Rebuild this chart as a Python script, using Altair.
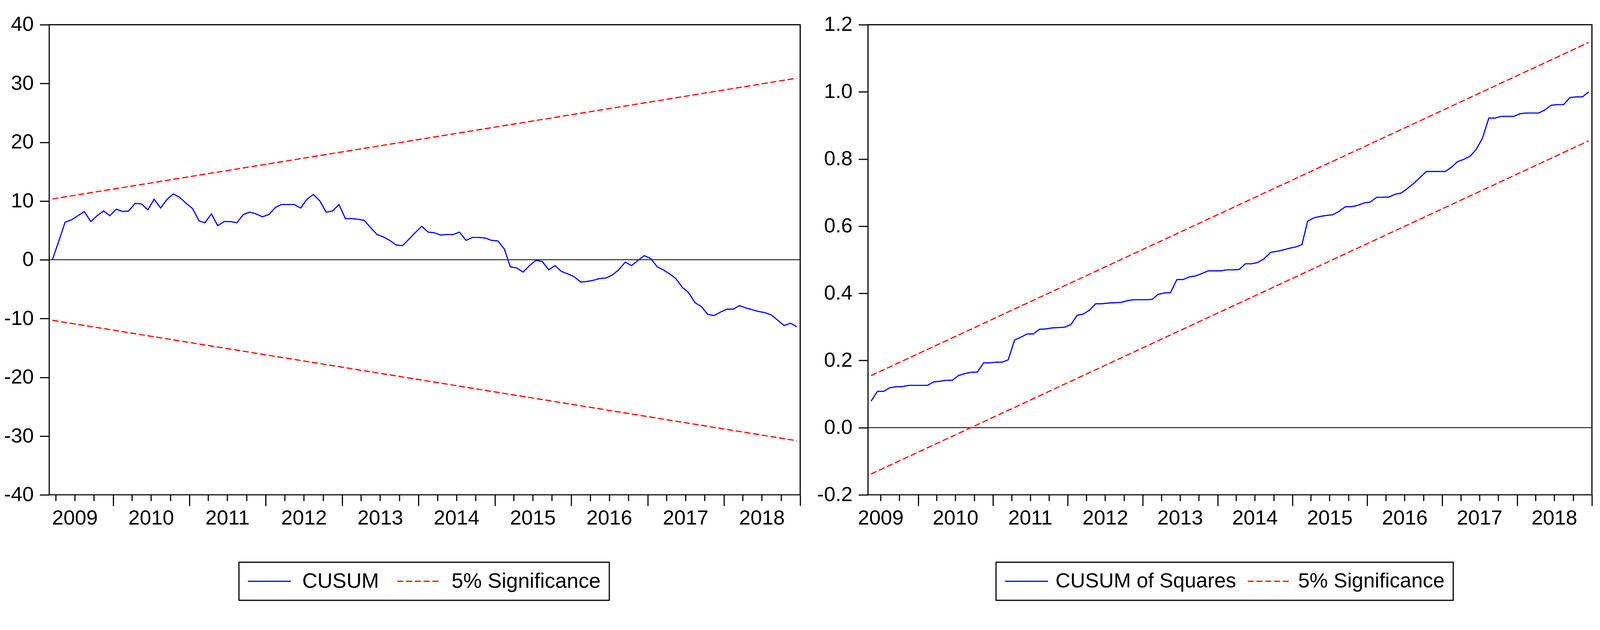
import altair as alt
import pandas as pd

# ---------------- data ----------------
# Left panel: CUSUM, monthly observations 2009M03 .. 2018M12
CUSUM_START = (2009, 3)
cusum = [
    0.0, 3.2, 6.4, 6.8, 7.5, 8.2, 6.5, 7.5, 8.3, 7.5,
    8.6, 8.2, 8.3, 9.6, 9.5, 8.5, 10.3, 8.8, 10.3, 11.2,
    10.6, 9.6, 8.7, 6.6, 6.3, 7.8, 5.8, 6.5, 6.5, 6.3,
    7.7, 8.1, 7.8, 7.3, 7.7, 8.9, 9.4, 9.4, 9.4, 8.8,
    10.3, 11.1, 10.0, 8.1, 8.3, 9.4, 7.0, 7.0, 6.9, 6.7,
    5.5, 4.3, 3.9, 3.3, 2.5, 2.4, 3.5, 4.6, 5.7, 4.7,
    4.6, 4.2, 4.3, 4.3, 4.7, 3.3, 3.8, 3.8, 3.7, 3.3,
    3.2, 1.8, -1.2, -1.4, -2.1, -1.0, -0.1, -0.3, -1.7, -1.0,
    -2.0, -2.4, -2.9, -3.8, -3.7, -3.5, -3.2, -3.1, -2.6, -1.7,
    -0.4, -1.0, -0.1, 0.7, 0.2, -1.2, -1.7, -2.4, -3.2, -4.7,
    -5.6, -7.3, -8.0, -9.3, -9.5, -8.9, -8.4, -8.4, -7.8, -8.2,
    -8.5, -8.8, -9.0, -9.4, -10.3, -11.2, -10.8, -11.4,
]
cusum_upper = [10.35, 30.9]     # at first and last observation
cusum_lower = [-10.3, -30.8]

# Right panel: CUSUM of Squares, monthly 2009M05 .. 2018M12
SQ_START = (2009, 5)
cusum_sq = [
    0.079, 0.108, 0.108, 0.119, 0.122, 0.122, 0.126, 0.126, 0.126, 0.126,
    0.136, 0.138, 0.141, 0.141, 0.155, 0.161, 0.165, 0.165, 0.193, 0.193,
    0.195, 0.195, 0.202, 0.261, 0.269, 0.279, 0.279, 0.293, 0.294, 0.297,
    0.298, 0.299, 0.307, 0.335, 0.338, 0.350, 0.369, 0.369, 0.371, 0.372,
    0.373, 0.378, 0.381, 0.381, 0.381, 0.382, 0.397, 0.401, 0.402, 0.441,
    0.441, 0.449, 0.452, 0.459, 0.467, 0.467, 0.467, 0.470, 0.470, 0.471,
    0.488, 0.488, 0.492, 0.503, 0.522, 0.525, 0.529, 0.534, 0.538, 0.545,
    0.615, 0.625, 0.629, 0.632, 0.634, 0.644, 0.658, 0.658, 0.662, 0.669,
    0.672, 0.686, 0.686, 0.687, 0.695, 0.699, 0.713, 0.728, 0.746, 0.763,
    0.763, 0.763, 0.763, 0.776, 0.792, 0.799, 0.808, 0.829, 0.862, 0.922,
    0.922, 0.927, 0.927, 0.927, 0.935, 0.937, 0.937, 0.937, 0.946, 0.960,
    0.962, 0.962, 0.983, 0.985, 0.985, 1.000,
]
sq_upper = [0.155, 1.147]
sq_lower = [-0.138, 0.854]

left_y_ticks = [-40, -30, -20, -10, 0, 10, 20, 30, 40]
right_y_ticks = [-0.2, 0.0, 0.2, 0.4, 0.6, 0.8, 1.0, 1.2]
left_series = ["CUSUM", "5% Significance"]
right_series = ["CUSUM of Squares", "5% Significance"]
zero_line = [0]

LEFT_DOMAIN = [(2009, 3), (2019, 1)]
RIGHT_DOMAIN = [(2009, 5), (2019, 1)]
LEFT_FIRST_QTICK = (2009, 4)
RIGHT_FIRST_QTICK = (2009, 7)


# ---------------- helpers ----------------
def add_months(ym, k):
    y, m = ym
    t = (m - 1) + k
    return y + t // 12, t % 12 + 1


def month_dates(start, n):
    out = []
    for i in range(n):
        y, m = add_months(start, i)
        out.append(f"{y}-{m:02d}-16T00:00:00")
    return out


def dt(ym):
    return alt.DateTime(year=ym[0], month=ym[1], date=1)


def quarter_ticks(first, last):
    ticks = []
    cur = first
    while cur <= last:
        ticks.append(dt(cur))
        cur = add_months(cur, 3)
    return ticks


def build_df(start, values, upper, lower, names):
    dates = month_dates(start, len(values))
    rows = [{"date": d, "value": v, "series": names[0], "line": "main"}
            for d, v in zip(dates, values)]
    ends = [dates[0], dates[-1]]
    rows += [{"date": d, "value": v, "series": names[1], "line": "upper"}
             for d, v in zip(ends, upper)]
    rows += [{"date": d, "value": v, "series": names[1], "line": "lower"}
             for d, v in zip(ends, lower)]
    return pd.DataFrame(rows)


FS_AXIS = 54
PLOT_H = 1234


def panel(df, names, domain, first_qtick, ydomain, yticks, yfmt, width,
          legend_x, legend_y, label_offset, column_padding, legend_fs):
    xaxis = alt.Axis(
        values=quarter_ticks(first_qtick, domain[1]),
        tickSize={"condition": {"test": "month(datum.value) == 0", "value": 29}, "value": 16},
        tickWidth=3,
        tickColor="black",
        labelExpr="month(datum.value) == 6 ? timeFormat(datum.value, '%Y') : ''",
        labelFontSize=FS_AXIS,
        labelColor="black",
        labelPadding=19,
        labelOverlap=False,
        labelFlush=False,
        labelBound=False,
        labelLimit=1000,
        domain=False,
        grid=False,
        title=None,
    )
    yaxis = alt.Axis(
        values=yticks,
        format=yfmt,
        labelExpr="replace(datum.label, '\u2212', '-')",
        tickSize=25,
        tickWidth=3,
        tickColor="black",
        labelFontSize=FS_AXIS,
        labelColor="black",
        labelPadding=16,
        domain=False,
        grid=False,
        title=None,
    )
    legend = alt.Legend(
        title=None,
        orient="none",
        legendX=legend_x,
        legendY=legend_y,
        direction="horizontal",
        labelOffset=label_offset,
        columnPadding=column_padding,
        labelFontSize=legend_fs,
    )
    color_scale = alt.Scale(domain=names, range=["#0000FF", "#FF0000"])
    dash_scale = alt.Scale(domain=names, range=[[1, 0], [16, 7]])

    xenc = alt.X("date:T", scale=alt.Scale(domain=[dt(domain[0]), dt(domain[1])]),
                 axis=xaxis, title=None)
    yenc = alt.Y("value:Q", scale=alt.Scale(domain=ydomain, nice=False, zero=False),
                 axis=yaxis, title=None)

    zero = alt.Chart(pd.DataFrame({"z": zero_line})).mark_rule(
        color="black", strokeWidth=2
    ).encode(y=alt.Y("z:Q"))

    lines = alt.Chart(df).mark_line(strokeWidth=3).encode(
        x=xenc,
        y=yenc,
        color=alt.Color("series:N", scale=color_scale, legend=legend),
        strokeDash=alt.StrokeDash("series:N", scale=dash_scale, legend=legend),
        detail="line:N",
    )
    return alt.layer(zero, lines).properties(width=width, height=PLOT_H)


df_left = build_df(CUSUM_START, cusum, cusum_upper, cusum_lower, left_series)
df_right = build_df(SQ_START, cusum_sq, sq_upper, sq_lower, right_series)

left = panel(df_left, left_series, LEFT_DOMAIN, LEFT_FIRST_QTICK,
             [-40, 40], left_y_ticks, "d", 1971, 498, 1411, 28, 46, 55)
right = panel(df_right, right_series, RIGHT_DOMAIN, RIGHT_FIRST_QTICK,
              [-0.2, 1.2], right_y_ticks, ".1f", 1900, 336, 1411, 18, 28, 54)

chart = (
    alt.hconcat(left, right, spacing=39)
    .resolve_scale(color="independent", strokeDash="independent")
    .resolve_legend(color="independent", strokeDash="independent")
    .properties(padding={"left": 0, "top": 8, "right": 10, "bottom": 5})
    .configure(font="Liberation Sans", background="white")
    .configure_view(stroke="black", strokeWidth=3)
    .configure_legend(
        strokeColor="black",
        strokeWidth=3,
        padding=22,
        labelColor="black",
        labelLimit=2000,
        symbolType="stroke",
        symbolSize=12769,
        symbolStrokeWidth=3,
        clipHeight=56,
    )
)

chart.save("out.html", embed_options={"renderer": "svg", "actions": False})
